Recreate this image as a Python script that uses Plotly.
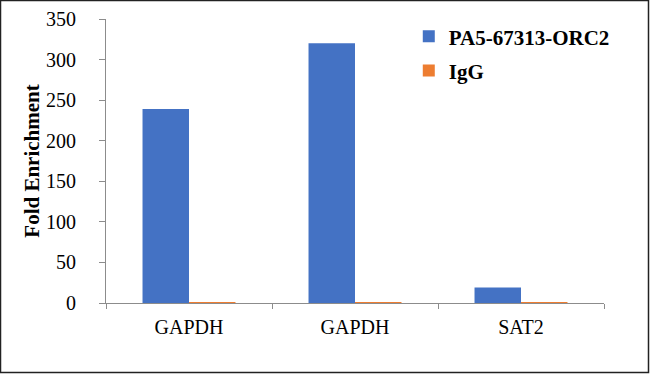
import plotly.graph_objects as go

categories = ["GAPDH", "GAPDH", "SAT2"]
series_names = ["PA5-67313-ORC2", "IgG"]
orc2_values = [239, 320, 19]
igg_values = [1, 1, 1]
y_ticks = [0, 50, 100, 150, 200, 250, 300, 350]

keys = [f"{c}#{i}" for i, c in enumerate(categories)]

W, H = 650, 374
L, R, T, B = 106, 46, 19, 71

font_fam = "Liberation Serif, Times New Roman, serif"

fig = go.Figure()
fig.add_trace(go.Bar(x=keys, y=orc2_values, name=series_names[0],
                     marker=dict(color="#4472C4", line=dict(width=0)),
                     legendgroup="a"))
fig.add_trace(go.Bar(x=keys, y=igg_values, name=series_names[1],
                     marker=dict(color="#ED7D31", line=dict(width=0)),
                     legendgroup="b"))

fig.update_layout(
    width=W, height=H,
    margin=dict(l=L, r=R, t=T, b=B, autoexpand=False),
    paper_bgcolor="white", plot_bgcolor="white",
    barmode="group", bargap=0.44, bargroupgap=0,
    font=dict(family=font_fam, size=20, color="black"),
    showlegend=True,
    legend=dict(x=0.608, y=1.01, xanchor="left", yanchor="top",
                font=dict(family=font_fam, size=21, color="black", weight="bold"),
                traceorder="grouped", tracegroupgap=4,
                bgcolor="rgba(0,0,0,0)", itemwidth=30),
    xaxis=dict(type="category", tickmode="array", tickvals=keys, ticktext=categories,
               tickson="boundaries", ticks="outside", ticklen=5, tickcolor="#8c8c8c",
               showline=True, linecolor="#8c8c8c", linewidth=1,
               showgrid=False, zeroline=False, ticklabelstandoff=6,
               tickfont=dict(family=font_fam, size=20, color="black")),
    yaxis=dict(range=[0, 350], tickvals=y_ticks, ticks="outside", ticklen=6,
               tickcolor="#8c8c8c", showline=True, linecolor="#8c8c8c", linewidth=1,
               showgrid=False, zeroline=False, ticklabelstandoff=19,
               tickfont=dict(family=font_fam, size=20, color="black"),
               title=dict(text="Fold Enrichment", standoff=0,
                          font=dict(family=font_fam, size=21, color="black", weight="bold"))),
)

pw = W - L - R
ph = H - T - B
fig.add_shape(type="rect", xref="paper", yref="paper",
              x0=-(L - 0.5) / pw, x1=1 + (R - 1.5) / pw,
              y0=-(B - 1.5) / ph, y1=1 + (T - 0.5) / ph,
              line=dict(color="#222222", width=1.5), fillcolor="rgba(0,0,0,0)",
              layer="above")

fig.write_html("out.html", config={"displayModeBar": False},
               post_script="document.body.style.margin='0';document.body.style.overflow='hidden';")
